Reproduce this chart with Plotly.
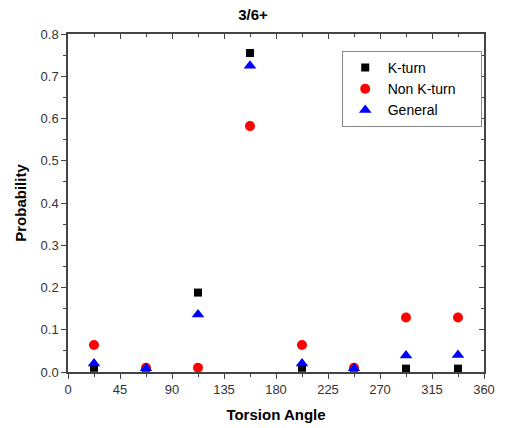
import plotly.graph_objects as go

angles = [22.5, 67.5, 112.5, 157.5, 202.5, 247.5, 292.5, 337.5]
kturn = [0.01, 0.005, 0.188, 0.755, 0.01, 0.005, 0.008, 0.008]
non_kturn = [0.064, 0.01, 0.01, 0.582, 0.064, 0.01, 0.129, 0.129]
general = [0.02, 0.009, 0.136, 0.725, 0.02, 0.009, 0.039, 0.04]
series_names = ["K-turn", "Non K-turn", "General"]
x_ticks = [0, 45, 90, 135, 180, 225, 270, 315, 360]
y_ticks = [0.0, 0.1, 0.2, 0.3, 0.4, 0.5, 0.6, 0.7, 0.8]

PAD = "\u00a0" * 5  # widens the legend box like the original
FONT = "Liberation Sans, Arial, sans-serif"
fig = go.Figure()
fig.add_trace(go.Scatter(x=angles, y=kturn, mode="markers", name=series_names[0],
                         legendgrouptitle=None,
                         marker=dict(symbol="square", size=8, color="black")))
fig.add_trace(go.Scatter(x=angles, y=non_kturn, mode="markers", name=series_names[1] + PAD,
                         marker=dict(symbol="circle", size=10, color="red")))
fig.add_trace(go.Scatter(x=angles, y=general, mode="markers", name=series_names[2],
                         marker=dict(symbol="triangle-up", size=11, color="blue")))
# invisible trace for mirrored inside-tick axes
fig.add_trace(go.Scatter(x=[0], y=[0], xaxis="x2", yaxis="y2", mode="markers",
                         marker=dict(opacity=0), showlegend=False, hoverinfo="skip"))

axcol = "#444444"
fig.update_layout(
    width=506, height=428,
    margin=dict(l=68, r=22, t=34, b=56, autoexpand=False),
    paper_bgcolor="white", plot_bgcolor="white",
    font=dict(family=FONT, color="#222222"),
    title=dict(text="<b>3/6+</b>", x=0.5, xanchor="center", y=0.965, yanchor="middle",
               font=dict(size=15, color="black")),
    xaxis=dict(range=[0, 360], tickvals=x_ticks, ticks="outside", ticklen=5, tickwidth=1,
               tickcolor=axcol, showline=True, linecolor=axcol, linewidth=1.5,
               showgrid=False, zeroline=False, tickfont=dict(size=13, color="#333333"),
               minor=dict(dtick=22.5, ticks="outside", ticklen=3, tickcolor=axcol),
               automargin=False,
               title=dict(text="<b>Torsion Angle</b>", font=dict(size=15, color="black"), standoff=13)),
    yaxis=dict(range=[0, 0.8], tickvals=y_ticks, tickformat=".1f", ticks="outside", ticklen=5,
               tickwidth=1, tickcolor=axcol, showline=True, linecolor=axcol, linewidth=1.5,
               showgrid=False, zeroline=False, tickfont=dict(size=13, color="#333333"),
               minor=dict(dtick=0.05, ticks="outside", ticklen=3, tickcolor=axcol),
               automargin=False,
               title=dict(text="<b>Probability</b>", font=dict(size=15, color="black"), standoff=10)),
    xaxis2=dict(range=[0, 360], overlaying="x", side="top", tickvals=x_ticks, ticks="inside",
                ticklen=5, tickcolor=axcol, showline=True, linecolor=axcol, linewidth=1.5,
                showticklabels=False, showgrid=False, zeroline=False, automargin=False,
                minor=dict(dtick=22.5, ticks="inside", ticklen=3, tickcolor=axcol)),
    yaxis2=dict(range=[0, 0.8], overlaying="y", side="right", tickvals=y_ticks, ticks="inside",
                ticklen=5, tickcolor=axcol, showline=True, linecolor=axcol, linewidth=1.5,
                showticklabels=False, showgrid=False, zeroline=False, automargin=False,
                minor=dict(dtick=0.05, ticks="inside", ticklen=3, tickcolor=axcol)),
    legend=dict(x=0.658, y=0.95, xanchor="left", yanchor="top",
                bgcolor="white", bordercolor="#888888", borderwidth=1,
                font=dict(size=14, color="black"), itemwidth=35, tracegroupgap=0),
    showlegend=True,
)
fig.write_html("out.html")
